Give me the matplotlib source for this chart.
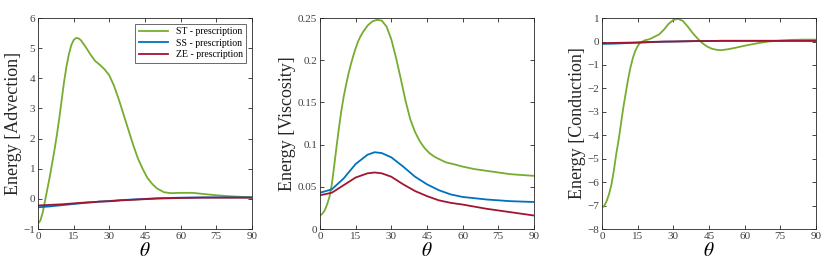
import numpy as np
from matplotlib import pyplot as plt

plt.rcParams['font.family'] = ['Liberation Serif', 'DejaVu Serif']
plt.rcParams['mathtext.fontset'] = 'stix'

# theta grid for the ST curves (deg)
theta_st = [0, 1, 2, 3, 4, 5, 6, 7, 8, 9, 10, 11, 12, 13, 14, 15, 16, 17, 18, 20, 22, 24, 26, 28,
            30, 32, 34, 36, 38, 40, 42, 44, 46, 48, 50, 53, 56, 60, 65, 70, 75, 80, 85, 90]
# theta grid for the SS / ZE curves
theta_ref = [0, 5, 10, 15, 20, 23, 26, 30, 35, 40, 45, 50, 55, 60, 70, 80, 90]

# advection
adv_st = [-0.82, -0.72, -0.45, -0.05, 0.35, 0.75, 1.2, 1.65, 2.15, 2.7, 3.3, 3.9, 4.4, 4.8,
          5.1, 5.27, 5.34, 5.33, 5.27, 5.05, 4.8, 4.58, 4.45, 4.3, 4.1, 3.75, 3.3, 2.8, 2.3,
          1.8, 1.35, 1.0, 0.7, 0.5, 0.35, 0.22, 0.19, 0.2, 0.2, 0.16, 0.12, 0.09, 0.07, 0.05]
adv_ss = [-0.28, -0.25, -0.21, -0.17, -0.13, -0.11, -0.09, -0.07, -0.04, -0.02, 0.0, 0.02,
          0.03, 0.04, 0.05, 0.05, 0.05]
adv_ze = [-0.22, -0.2, -0.18, -0.15, -0.12, -0.11, -0.09, -0.08, -0.05, -0.03, -0.01, 0.01,
          0.02, 0.03, 0.04, 0.04, 0.04]

# viscosity
vis_st = [0.016, 0.018, 0.022, 0.029, 0.038, 0.053, 0.075, 0.098, 0.12, 0.14, 0.157, 0.171,
          0.184, 0.195, 0.205, 0.214, 0.222, 0.228, 0.233, 0.241, 0.246, 0.248, 0.247, 0.24,
          0.225, 0.203, 0.178, 0.152, 0.13, 0.115, 0.104, 0.096, 0.09, 0.086, 0.083, 0.079,
          0.077, 0.074, 0.071, 0.069, 0.067, 0.065, 0.064, 0.063]
vis_ss = [0.043, 0.047, 0.06, 0.077, 0.088, 0.091, 0.09, 0.085, 0.074, 0.062, 0.053, 0.046,
          0.041, 0.038, 0.035, 0.033, 0.032]
vis_ze = [0.04, 0.043, 0.052, 0.061, 0.066, 0.067, 0.066, 0.062, 0.053, 0.045, 0.039, 0.034,
          0.031, 0.029, 0.024, 0.02, 0.016]

# conduction
con_st = [-7.1, -7.0, -6.8, -6.5, -6.1, -5.5, -4.8, -4.2, -3.5, -2.8, -2.2, -1.6, -1.1, -0.7,
          -0.4, -0.2, -0.05, 0.0, 0.05, 0.1, 0.2, 0.3, 0.5, 0.75, 0.92, 0.97, 0.88, 0.65, 0.38,
          0.15, -0.05, -0.2, -0.3, -0.35, -0.37, -0.33, -0.27, -0.18, -0.08, 0.0, 0.04, 0.07,
          0.08, 0.08]
con_ss = [-0.1, -0.09, -0.07, -0.05, -0.03, -0.02, -0.01, 0.0, 0.01, 0.02, 0.02, 0.03, 0.03,
          0.03, 0.03, 0.03, 0.03]
con_ze = [-0.07, -0.06, -0.05, -0.04, -0.02, -0.01, 0.0, 0.0, 0.01, 0.02, 0.02, 0.03, 0.03,
          0.03, 0.03, 0.03, 0.03]

labels = ['ST - prescription', 'SS - prescription', 'ZE - prescription']
colors = ['#77AC30', '#0072BD', '#A2142F']

panels = [
    (adv_st, adv_ss, adv_ze, 'Energy [Advection]', (-1, 6), np.arange(-1, 7, 1), None),
    (vis_st, vis_ss, vis_ze, 'Energy [Viscosity]', (0, 0.25), [0, 0.05, 0.1, 0.15, 0.2, 0.25],
     ['0', '0.05', '0.1', '0.15', '0.2', '0.25']),
    (con_st, con_ss, con_ze, 'Energy [Conduction]', (-8, 1), np.arange(-8, 2, 1), None),
]
lefts = [0.0457, 0.385, 0.7244]

fig = plt.figure(figsize=(8.31, 2.68), dpi=100)
for i, (st, ss, ze, ylab, ylim, yt, ytl) in enumerate(panels):
    ax = fig.add_axes([lefts[i], 0.1455, 0.2575, 0.787])
    ax.plot(theta_st, st, color=colors[0], lw=1.3, label=labels[0])
    ax.plot(theta_ref, ss, color=colors[1], lw=1.3, label=labels[1])
    ax.plot(theta_ref, ze, color=colors[2], lw=1.3, label=labels[2])
    ax.set_xlim(0, 90)
    ax.set_ylim(*ylim)
    ax.set_xticks(np.arange(0, 91, 15))
    ax.set_yticks(yt)
    if ytl is not None:
        ax.set_yticklabels(ytl)
    ax.tick_params(direction='in', top=True, right=True, labelsize=8, length=3,
                   width=0.6, colors='#262626', labelcolor='#404040', pad=2)
    for sp in ax.spines.values():
        sp.set_color('#262626')
        sp.set_linewidth(0.6)
    ax.set_xlabel(r'$\theta$', fontsize=14, labelpad=1)
    ax.set_ylabel(ylab, fontsize=13, color='#262626', labelpad=1)
    if i == 0:
        leg = ax.legend(loc='upper right', fontsize=7, frameon=True, fancybox=False,
                        handlelength=3, borderaxespad=0.6, labelspacing=0.25,
                        borderpad=0.35)
        leg.get_frame().set_edgecolor('#262626')
        leg.get_frame().set_linewidth(0.6)

fig.savefig('out.png', dpi=100)
